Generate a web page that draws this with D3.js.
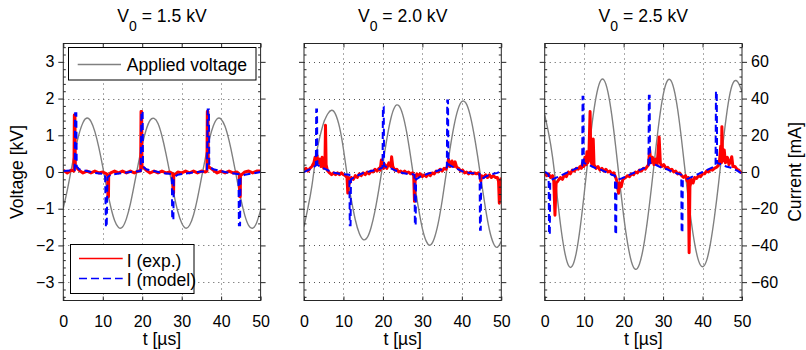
<!DOCTYPE html>
<html>
<head>
<meta charset="utf-8">
<script src="https://cdn.jsdelivr.net/npm/d3@7"></script>
<style>
  body { margin: 0; background: #fff; }
  svg { font-family: "Liberation Sans", Arial, sans-serif; }
  .frame { fill: none; stroke: #262626; stroke-width: 1; }
  .axis path { display: none; }
  .axis line { stroke: #262626; }
  .axis text { font-size: 16px; fill: #000; }
  .grid line { stroke: #555; stroke-dasharray: 1,4; }
</style>
</head>
<body>
<div id="chart"></div>
<script>
// values: [t in µs, value]
const panelTitles = ["1.5", "2.0", "2.5"];
const voltTicks = [-3, -2, -1, 0, 1, 2, 3];
const currentTicks = [-60, -40, -20, 0, 20, 40, 60];
const timeTicks = [0, 10, 20, 30, 40, 50];

// applied voltage [kV]
const voltage15 = [[0,-0.98],[1,-0.50],[2,0.06],[3,0.59],[4,1.04],[5,1.35],[6,1.47],[7,1.38],[8,1.10],[9,0.67],[10,0.14],
  [11,-0.43],[12,-0.94],[13,-1.32],[14,-1.51],[15,-1.50],[16,-1.27],[17,-0.87],[18,-0.34],[19,0.22],[20,0.74],
  [21,1.15],[22,1.41],[23,1.46],[24,1.32],[25,0.98],[26,0.51],[27,-0.03],[28,-0.59],[29,-1.07],[30,-1.39],
  [31,-1.53],[32,-1.45],[33,-1.17],[34,-0.72],[35,-0.17],[36,0.38],[37,0.88],[38,1.25],[39,1.45],[40,1.44],
  [41,1.24],[42,0.86],[43,0.36],[44,-0.20],[45,-0.74],[46,-1.18],[47,-1.46],[48,-1.53],[49,-1.38],[50,-1.04]];
const voltage20 = [[0,-1.49],[1,-0.98],[2,-0.38],[3,0.40],[4,0.95],[5,1.35],[5.4,1.45],[6,1.58],[7,1.68],[8,1.57],[9,1.22],[10,0.62],
  [11,-0.13],[12,-0.76],[13,-1.30],[14,-1.67],[15,-1.84],[16,-1.79],[17,-1.51],[18,-1.05],[19,-0.45],[20,0.22],
  [21,0.90],[22,1.45],[23,1.77],[24,1.81],[25,1.57],[26,1.09],[27,0.43],[28,-0.29],[29,-0.98],[30,-1.54],
  [31,-1.89],[32,-1.99],[33,-1.81],[34,-1.40],[35,-0.79],[36,-0.07],[37,0.63],[38,1.25],[39,1.70],[40,1.92],
  [41,1.88],[42,1.59],[43,1.08],[44,0.43],[45,-0.30],[46,-1.00],[47,-1.58],[48,-1.94],[49,-2.05],[50,-1.89]];
const voltage25 = [[0,1.55],[1,1.05],[2,0.40],[3,-0.50],[4,-1.43],[5,-2.14],[6,-2.54],[7,-2.56],[8,-2.20],[9,-1.51],[10,-0.60],
  [11,0.39],[12,1.31],[13,2.03],[14,2.45],[15,2.51],[16,2.19],[17,1.55],[18,0.68],[19,-0.28],[20,-1.19],
  [21,-1.94],[22,-2.45],[23,-2.65],[24,-2.51],[25,-2.06],[26,-1.35],[27,-0.47],[28,0.49],[29,1.39],[30,2.09],
  [31,2.47],[32,2.49],[33,2.14],[34,1.47],[35,0.58],[36,-0.37],[37,-1.24],[38,-1.95],[39,-2.42],[40,-2.58],
  [41,-2.42],[42,-1.95],[43,-1.24],[44,-0.37],[45,0.60],[46,1.49],[47,2.16],[48,2.47],[49,2.44],[50,2.20]];

// measured current I (exp.) [mA]
const currentExp15 = [[0,1],[1,-0.5],[2,1],[2.7,0.5],[2.8,31],[2.95,31],[3.05,3],[4,1],[5,-0.5],[6,0.5],[7,-0.5],[8,0.5],
  [9,-0.5],[10,0],[11,-1],[11.25,-2],[11.3,-13.5],[11.45,-13.5],[11.5,-2],[12,-0.5],[13,0.5],[14,-0.5],[15,0.5],
  [16,-0.5],[17,0.5],[18,-0.5],[19,0.5],[19.6,0.5],[19.7,33],[19.85,33],[19.95,3],[21,1],[22,-0.5],[23,0.5],
  [24,-0.5],[25,0.5],[26,-0.5],[27,0],[27.75,-1],[27.8,-11.5],[27.95,-11.5],[28,-2],[29,0],[30,-0.5],[31,0.5],
  [32,-0.5],[33,0.5],[34,-0.5],[35,0.5],[36,0],[36.4,0.5],[36.5,33],[36.65,33],[36.75,3],[38,1],[39,-0.5],
  [40,0.5],[41,-0.5],[42,0.5],[43,-0.5],[44,0],[44.6,-1],[44.7,-13.5],[44.85,-13.5],[44.9,-2],[46,0],[47,0.5],
  [48,-0.5],[49,0.5],[50,0.5]];
const currentExp20 = [[0,1],[0.5,2],[1,0.5],[1.5,2],[2,3],[2.5,5],[2.8,8],[3,4],[3.3,9],[3.6,5],[4,7],[4.3,3],[4.6,8],
  [5,2],[5.3,4],[5.45,25.5],[5.6,4],[5.9,1],[6.5,-0.5],[7,-1.5],[7.5,-0.5],[8,-1.5],[8.5,-0.5],[9,-1.5],[9.5,-0.5],
  [10,-1.5],[10.5,-2],[10.9,-3],[11.1,-11.5],[11.3,-3],[11.6,-6],[12,-3],[12.5,-4],[13,-2],[13.5,-3],[14,-1],
  [14.5,-2],[15,-0.5],[15.5,-1.5],[16,0],[16.5,-1],[17,0.5],[17.5,0],[18,1.5],[18.5,0.5],[19,2],[19.3,1],
  [19.6,6.5],[19.9,3],[20.2,2],[20.5,4],[21,2],[21.5,5],[22,3],[22.2,8.3],[22.5,3],[23,1],[23.5,1.5],[24,0],
  [24.5,0.5],[25,-0.5],[25.5,0.5],[26,-0.5],[26.5,0],[27,-1],[27.5,-0.5],[27.8,-2],[28,-16],[28.2,-3],[28.6,-1],
  [29,-2],[29.5,-1],[30,-2.5],[30.5,-1.5],[31,-2.5],[31.5,-1],[32,-2],[32.5,-0.5],[33,-1],[33.5,0.5],[34,0],
  [34.5,1.5],[35,0.5],[35.5,2],[36,1.5],[36.3,3],[36.6,7],[37,3],[37.5,6],[38,3],[38.3,5.5],[38.7,2.5],[39.2,2],
  [39.7,0.5],[40.2,1],[40.7,-0.5],[41.2,0],[41.7,-1],[42.2,0],[42.7,-1],[43.2,-0.5],[43.7,-1],[44.2,-0.5],
  [44.6,-2],[44.8,-5],[45,-2],[45.5,-3],[46,-1.5],[46.5,-3],[47,-1.5],[47.5,-3],[48,-2],[48.5,-3],[49,-3],
  [49.3,-5],[49.5,-17],[49.7,-6],[50,-3]];
const currentExp25 = [[0,-0.5],[0.5,-2],[1,-1],[1.5,-3],[2,-2],[2.3,-5],[2.6,-23.5],[2.9,-6],[3.3,-5],[4,-3],[4.5,-4],
  [5,-1.5],[5.5,-2.5],[6,0],[6.5,-1],[7,1],[7.5,0.5],[8,2],[8.5,1.5],[9,3],[9.3,2],[9.6,5],[9.9,3],[10.2,8],
  [10.5,4],[10.7,11],[10.9,5],[11.2,9],[11.5,33],[11.7,6],[12,4],[12.3,18],[12.5,4],[13,2],[13.5,3],[14,1],
  [14.5,2],[15,0.5],[15.5,1.5],[16,0],[16.5,0.5],[17,-1],[17.5,-0.5],[18,-3],[18.3,-5],[18.7,-11.6],[19,-6],
  [19.4,-8],[19.8,-4],[20.5,-3],[21,-2],[21.5,-2.5],[22,-1],[22.5,-1.5],[23,0],[23.5,-0.5],[24,1],[24.5,0.5],
  [25,2],[25.5,1.5],[26,3],[26.3,4],[26.6,12],[26.9,5],[27.3,8],[27.7,4],[28.1,7],[28.5,4],[29,19],[29.3,5],
  [29.7,3],[30.2,4],[30.7,2],[31.2,2.5],[31.7,1],[32.2,1.5],[32.7,0],[33.2,0.5],[33.7,-1],[34.2,-0.5],[34.7,-2],
  [35.2,-3],[35.7,-2],[36.1,-5],[36.4,-3],[36.6,-44],[36.8,-8],[37.2,-4],[37.6,-6],[38,-3],[38.5,-3.5],[39,-2],
  [39.5,-2.5],[40,-1],[40.5,-1],[41,0.5],[41.5,0],[42,1.5],[42.5,1],[43,2],[43.5,2.5],[44,3.5],[44.3,6],
  [44.6,14],[44.8,5],[44.9,24.7],[45.1,6],[45.5,12],[45.8,5],[46.3,8],[46.7,4],[47.1,6],[47.4,8.3],[47.7,3],
  [48.2,3],[48.7,1.5],[49.2,1],[49.6,0],[50,-0.5]];

// model current I (model) [mA]
const currentModel15 = [[0,0.5],[2.9,1],[3.0,32],[3.3,32],[3.4,3],[4,1.5],[6,0.5],[8,-0.5],[10.6,-1.2],[10.8,-30],
  [11.0,-30],[11.2,-3],[12,-1.5],[14,-0.8],[17,0],[19.6,0.5],[19.8,33],[20.1,33],[20.2,3],[21,1.5],[23,0.5],
  [25,-0.5],[27.5,-1.2],[27.6,-26],[27.9,-26],[28.0,-3],[29,-1.5],[31,-0.8],[34,0],[36.4,0.5],[36.6,34],
  [36.9,34],[37.0,3],[38,1.5],[40,0.5],[42,-0.5],[44.4,-1.2],[44.5,-29],[44.8,-29],[44.9,-3],[46,-1.5],
  [48,-0.8],[50,0]];
const currentModel20 = [[0,0],[1,1],[2,2],[3.0,3.5],[3.1,34],[3.3,34],[3.4,4],[4,3],[5,2],[6,1],[7,0],[8,-0.5],
  [9,-1],[10,-1.2],[11.5,-1.5],[11.6,-29],[11.8,-29],[11.9,-4],[13,-2.5],[14,-1.5],[15,-0.5],[16,0],[17,0.5],
  [18,1],[19,1.5],[19.9,2.5],[20.0,35.5],[20.2,35.5],[20.3,3.5],[21,2.5],[22,2],[23,1],[24,0],[25,-0.5],[26,-1],
  [27,-1],[28.0,-1.5],[28.1,-29],[28.3,-29],[28.4,-4],[29.5,-2.5],[31,-1.2],[32,-0.5],[33,0],[34,0.8],[35,1.5],
  [36.2,2.5],[36.3,39],[36.5,39],[36.6,4],[37.5,3],[38.5,2],[39.5,1],[40.5,0],[42,-0.5],[44.5,-1],[44.6,-31.5],
  [44.8,-31.5],[44.9,-4],[46,-2.5],[47,-1.5],[48,-1],[49,-0.5],[50,0.5]];
const currentModel25 = [[0,0],[0.5,-0.5],[1.0,-1.5],[1.1,-34],[1.3,-34],[1.4,-4.5],[2.5,-3.5],[4,-2],[5,-1],[6,0],
  [7,1],[8,2],[9,3],[9.5,3.5],[9.6,41],[9.8,41],[9.9,5],[11,4],[12,3],[13,2],[14,1.5],[15,0.5],[16,-0.5],
  [17,-1.5],[17.8,-2],[17.9,-34],[18.1,-34],[18.2,-4.5],[19.5,-3.5],[21,-2],[22,-1],[23,0],[24,1],[25,2],[26,3],
  [26.3,3.5],[26.4,41.5],[26.6,41.5],[26.7,5],[28,4],[29,3],[30,2],[31,1.5],[32,0.5],[33,-0.5],[34,-1],
  [34.6,-1.5],[34.7,-33],[34.9,-33],[35.0,-4.5],[36.5,-3.5],[38,-2],[39,-1],[40,0],[41,1],[42,2],[43,3],
  [43.3,3.5],[43.4,44],[43.6,44],[43.7,5],[45,4],[46,3],[47,2.5],[48,1.5],[49,0.5],[50,-1]];

const panels = [
  { title: panelTitles[0], volt: voltage15, exp: currentExp15, model: currentModel15 },
  { title: panelTitles[1], volt: voltage20, exp: currentExp20, model: currentModel20 },
  { title: panelTitles[2], volt: voltage25, exp: currentExp25, model: currentModel25 }
];

const width = 806, height = 350;
const lefts = [63.3, 304, 544.7];
const pw = 197.3, plotTop = 43.5, plotBottom = 300.5;
const labelSize = 17.6;

const svg = d3.select("#chart").append("svg")
  .attr("width", width).attr("height", height);

const yV = d3.scaleLinear().domain([-3.5, 3.5]).range([plotBottom, plotTop]);
const yI = d3.scaleLinear().domain([-70, 70]).range([plotBottom, plotTop]);
const minorV = d3.range(-34, 35, 2).map(d => d / 10).filter(d => !voltTicks.includes(d));

panels.forEach((p, i) => {
  const x0 = lefts[i];
  const x = d3.scaleLinear().domain([0, 50]).range([x0, x0 + pw]);
  const g = svg.append("g");

  g.append("clipPath").attr("id", "clip" + i)
    .append("rect").attr("x", x0).attr("y", plotTop).attr("width", pw).attr("height", plotBottom - plotTop);

  // dotted grid
  const grid = g.append("g").attr("class", "grid");
  grid.selectAll(".gx").data(timeTicks.slice(1, -1)).join("line")
    .attr("x1", d => Math.round(x(d)) + 0.5).attr("x2", d => Math.round(x(d)) + 0.5)
    .attr("y1", plotTop).attr("y2", plotBottom);
  grid.selectAll(".gy").data(voltTicks).join("line")
    .attr("x1", x0).attr("x2", x0 + pw)
    .attr("y1", d => Math.round(yV(d)) + 0.5).attr("y2", d => Math.round(yV(d)) + 0.5);

  // series
  const plot = g.append("g").attr("clip-path", `url(#clip${i})`);
  const vLine = d3.line().x(d => x(d[0])).y(d => yV(d[1])).curve(d3.curveNatural);
  const iLine = d3.line().x(d => x(d[0])).y(d => yI(d[1]));
  plot.append("path").datum(p.volt).attr("d", vLine)
    .attr("fill", "none").attr("stroke", "#808080").attr("stroke-width", 1.4);
  plot.append("path").datum(p.exp).attr("d", iLine)
    .attr("fill", "none").attr("stroke", "#ff0000").attr("stroke-width", 3)
    .attr("stroke-linejoin", "round");
  plot.append("path").datum(p.model).attr("d", iLine)
    .attr("fill", "none").attr("stroke", "#0000ff").attr("stroke-width", 2)
    .attr("stroke-dasharray", "7,4");

  // axes
  const axL = d3.axisLeft(yV).tickValues(voltTicks).tickSize(5).tickPadding(4)
    .tickFormat(i === 0 ? d3.format("d") : "");
  g.append("g").attr("class", "axis").attr("transform", `translate(${x0},0)`).call(axL);
  const axR = d3.axisRight(yI).tickValues(currentTicks).tickSize(5).tickPadding(4)
    .tickFormat(i === 2 ? d3.format("d") : "");
  g.append("g").attr("class", "axis").attr("transform", `translate(${x0 + pw},0)`).call(axR);
  g.append("g").attr("class", "axis").attr("transform", `translate(${x0},0)`)
    .call(d3.axisRight(yV).tickValues(minorV).tickSize(2.5).tickFormat(""));
  g.append("g").attr("class", "axis").attr("transform", `translate(${x0 + pw},0)`)
    .call(d3.axisLeft(yV).tickValues(minorV).tickSize(2.5).tickFormat(""));
  g.append("g").attr("class", "axis").attr("transform", `translate(0,${plotBottom})`)
    .call(d3.axisBottom(x).tickValues(timeTicks).tickSize(-4).tickPadding(15).tickFormat(d3.format("d")));
  g.append("g").attr("class", "axis").attr("transform", `translate(0,${plotTop})`)
    .call(d3.axisTop(x).tickValues(timeTicks).tickSize(-4).tickFormat(""));

  g.append("rect").attr("class", "frame")
    .attr("x", x0).attr("y", plotTop).attr("width", pw).attr("height", plotBottom - plotTop);

  // title
  const cx = x0 + pw / 2;
  const t = g.append("text").attr("x", cx).attr("y", 22).attr("text-anchor", "middle")
    .attr("font-size", labelSize);
  t.append("tspan").text("V");
  t.append("tspan").attr("dy", 8.7).attr("font-size", 14).text("0");
  t.append("tspan").attr("dy", -8.7).text(` = ${p.title} kV`);

  g.append("text").attr("x", cx).attr("y", 345).attr("text-anchor", "middle")
    .attr("font-size", labelSize).text("t [µs]");
});

// axis labels
svg.append("text").attr("transform", "translate(23,172) rotate(-90)")
  .attr("text-anchor", "middle").attr("font-size", labelSize).text("Voltage [kV]");
svg.append("text").attr("transform", "translate(801,172) rotate(-90)")
  .attr("text-anchor", "middle").attr("font-size", labelSize).text("Current [mA]");

// legends
const leg1 = svg.append("g");
leg1.append("rect").attr("x", 68.5).attr("y", 47.5).attr("width", 187.5).attr("height", 32.5)
  .attr("fill", "#fff").attr("stroke", "#000");
leg1.append("line").attr("x1", 77.7).attr("x2", 121).attr("y1", 64.5).attr("y2", 64.5)
  .attr("stroke", "#808080").attr("stroke-width", 1.4);
leg1.append("text").attr("x", 126.7).attr("y", 71).attr("font-size", labelSize).text("Applied voltage");

const leg2 = svg.append("g");
leg2.append("rect").attr("x", 70.5).attr("y", 244.5).attr("width", 123.5).attr("height", 49)
  .attr("fill", "#fff").attr("stroke", "#000");
leg2.append("line").attr("x1", 79).attr("x2", 122.7).attr("y1", 258.5).attr("y2", 258.5)
  .attr("stroke", "#ff0000").attr("stroke-width", 1.5);
leg2.append("text").attr("x", 126.7).attr("y", 266.5).attr("font-size", labelSize).text("I (exp.)");
leg2.append("line").attr("x1", 79).attr("x2", 122.7).attr("y1", 278.5).attr("y2", 278.5)
  .attr("stroke", "#0000ff").attr("stroke-width", 1.5).attr("stroke-dasharray", "8,4");
leg2.append("text").attr("x", 126.7).attr("y", 286).attr("font-size", labelSize).text("I (model)");
</script>
</body>
</html>
